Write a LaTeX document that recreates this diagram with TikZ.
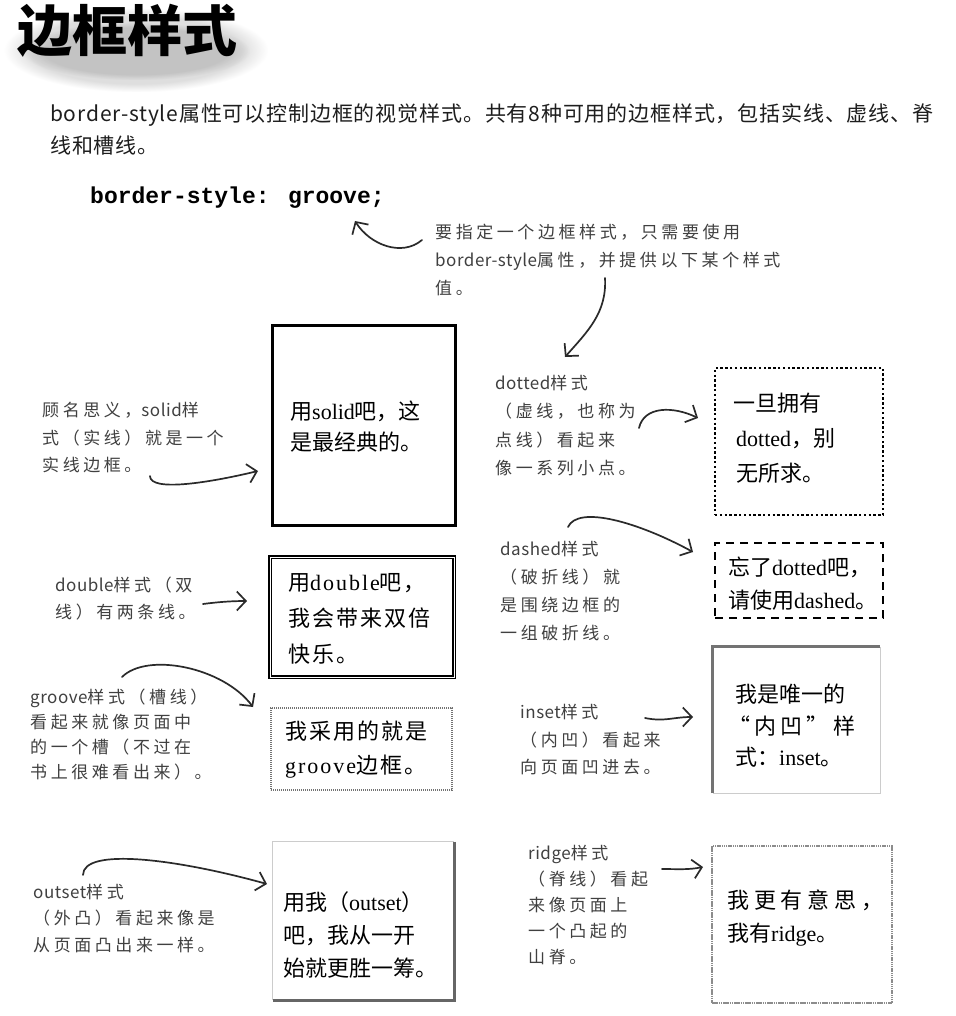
\documentclass[tikz,border=0pt]{standalone}
\usepackage{fontspec}
\setmainfont{Noto Sans CJK SC}
\newfontfamily\handfont[LetterSpace=21]{Noto Sans CJK SC}
\newfontfamily\handlatin[LetterSpace=3]{Noto Sans CJK SC}
\newfontfamily\parafont[LetterSpace=4]{Noto Sans CJK SC}
\newfontfamily\titlefont{Noto Sans CJK SC}
\newfontfamily\cjkwide[LetterSpace=9]{Noto Sans CJK SC}
\newfontfamily\codefont{Liberation Mono}
\newfontfamily\serifen{Liberation Serif}
\newfontfamily\serifwide[LetterSpace=9]{Liberation Serif}
\usetikzlibrary{arrows.meta,fadings}
\newcommand\en[1]{{\serifen #1}}
\newcommand\enw[1]{{\serifwide #1}}
\newcommand\lat[1]{{\handlatin #1}}
\definecolor{ink}{HTML}{1E1E1E}
\definecolor{note}{HTML}{404040}
\definecolor{arrowink}{HTML}{2A2A2A}
\begin{document}
\begin{tikzpicture}[x=1pt,y=-1pt,
  note/.style={font=\handfont\fontsize{17}{#1}\selectfont, text=note, align=left, inner sep=0pt, anchor=west},
  note/.default=27,
  boxtext/.style={font=\fontsize{22}{#1}\selectfont, text=black, align=left, inner sep=0pt, anchor=west},
  boxtext/.default=33,
  widetext/.style={font=\cjkwide\fontsize{22}{#1}\selectfont, text=black, align=left, inner sep=0pt, anchor=west},
  frame/.style={rectangle, inner sep=0pt},
  arr/.style={draw=arrowink, line width=1.7pt, line cap=round, line join=round,
              -{Straight Barb[length=9pt,width=19pt]}}
]
\fill[white] (0,0) rectangle (955,1016);
\useasboundingbox (0,0) rectangle (955,1016);

% title over a soft grey haze
\fill[black, opacity=0.13, path fading=circle with fuzzy edge 20 percent] (4,8) rectangle (268,92);
\fill[black, opacity=0.12, path fading=circle with fuzzy edge 20 percent] (22,22) rectangle (250,80);
\node[font=\titlefont\bfseries\fontsize{55}{55}\selectfont, inner sep=0pt, text=black] (title) at (127,31) {边框样式};

% introduction and the property line
\node[anchor=west, inner sep=0pt, font=\parafont\fontsize{21}{32}\selectfont, text=ink, align=left] (intro) at (50,129)
  {border-style属性可以控制边框的视觉样式。共有8种可用的边框样式，包括实线、虚线、脊\\线和槽线。};
\node[anchor=west, inner sep=0pt, font=\codefont\bfseries\fontsize{23}{23}\selectfont] (code) at (90,198) {border-style: groove;};

% hand-written notes
\node[note=28] (annTop) at (435,260) {要指定一个边框样式，只需要使用\\\lat{border-style}属性，并提供以下某个样式\\值。};
\node[note=27.5] (annSolid) at (42,437.7) {顾名思义，\lat{solid}样\\式（实线）就是一个\\实线边框。};
\node[note] (annDouble) at (55,598.5) {\lat{double}样式（双\\线）有两条线。};
\node[note=25] (annGroove) at (30,734.5) {\lat{groove}样式（槽线）\\看起来就像页面中\\的一个槽（不过在\\书上很难看出来）。};
\node[note=28.5] (annDotted) at (495,425.8) {\lat{dotted}样式\\（虚线，也称为\\点线）看起来\\像一系列小点。};
\node[note=28] (annDashed) at (500,590.5) {\lat{dashed}样式\\（破折线）就\\是围绕边框的\\一组破折线。};
\node[note=27.5] (annInset) at (520,739.7) {\lat{inset}样式\\（内凹）看起来\\向页面凹进去。};
\node[note=26.5] (annOutset) at (33,918.3) {\lat{outset}样式\\（外凸）看起来像是\\从页面凸出来一样。};
\node[note=26] (annRidge) at (528,904.6) {\lat{ridge}样式\\（脊线）看起\\来像页面上\\一个凸起的\\山脊。};

% the eight bordered boxes
\node[frame, draw=black, line width=3pt, minimum width=183pt, minimum height=200pt] (bSolid) at (363.5,425) {};
\node[frame, draw=black, double=white, double distance=0.8pt, line width=1.5pt, minimum width=184pt, minimum height=120pt] (bDouble) at (362,617) {};
\node[frame, draw=black!55, line width=1.4pt, dash pattern=on 1.2pt off 0.8pt, minimum width=181pt, minimum height=82pt] (bGroove) at (361.5,749) {};
\node[frame, draw=black, line width=2.6pt, dash pattern=on 2.4pt off 2.4pt, minimum width=168pt, minimum height=147pt] (bDotted) at (799,441.5) {};
\node[frame, draw=black, line width=2.6pt, dash pattern=on 8pt off 6pt, minimum width=168pt, minimum height=75pt] (bDashed) at (799,580.5) {};
\node[frame, minimum width=167pt, minimum height=146pt] (bInset) at (796.5,720) {};
\draw[black!55, line width=3pt] (bInset.south west) -- (bInset.north west) -- (bInset.north east);
\draw[black!20, line width=1.2pt] (bInset.north east) -- (bInset.south east) -- (bInset.south west);
\node[frame, minimum width=181pt, minimum height=158pt] (bOutset) at (363.5,921) {};
\draw[black!20, line width=1.2pt] (bOutset.south west) -- (bOutset.north west) -- (bOutset.north east);
\draw[black!60, line width=3pt] (bOutset.north east) -- (bOutset.south east) -- (bOutset.south west);
\node[frame, draw=black!45, line width=1.5pt, dash pattern=on 1.5pt off 0.7pt, minimum width=180pt, minimum height=157pt] (bRidge) at (802,924.5) {};

% box texts
\node[boxtext=31] (tSolid) at (290,426.5) {用\en{solid}吧，这\\是最经典的。};
\node[widetext=36] (tDouble) at (288,619) {用\enw{double}吧，\\我会带来双倍\\快乐。};
\node[widetext=34] (tGroove) at (285,750) {我采用的就是\\\enw{groove}边框。};
\node[boxtext=35] (tDotted) at (733,438) {一旦拥有\\\hspace*{3pt}\en{dotted}，别\\\hspace*{3pt}无所求。};
\node[boxtext=33] (tDashed) at (728,583.5) {忘了\en{dotted}吧，\\请使用\en{dashed}。};
\node[boxtext=31.5] (tInset) at (728,726) {\hspace*{7pt}我是唯一的\\\hbox to 127pt{“\hfil 内\hfil 凹\hfil ”\hfil 样}\\\hspace*{7pt}式：\en{inset}。};
\node[boxtext=33] (tOutset) at (283,935) {用我（\en{outset}）\\吧，我从一开\\始就更胜一筹。};
\node[boxtext=33] (tRidge) at (727,918.5) {\hbox to 156pt{我\hfil 更\hfil 有\hfil 意\hfil 思\hfil ，}\\我有\en{ridge}。};

% arrow ends
\coordinate (topFrom) at (422,240);   \coordinate (codeTip) at (355,221);
\coordinate (topFrom2) at (605,278);  \coordinate (dottedNoteTip) at (565,357);
\coordinate (solidFrom) at (150,476); \coordinate (solidTip) at (258,471);
\coordinate (doubleFrom) at (203,604);\coordinate (doubleTip) at (247,601);
\coordinate (grooveFrom) at (122,677);\coordinate (grooveTip) at (253,707);
\coordinate (dottedFrom) at (639,428);\coordinate (dottedTip) at (698,418);
\coordinate (dashedFrom) at (568,527);\coordinate (dashedTip) at (693,552);
\coordinate (insetFrom) at (645,718); \coordinate (insetTip) at (693,717);
\coordinate (outsetFrom) at (83,875); \coordinate (outsetTip) at (267,884);
\coordinate (ridgeFrom) at (662,869); \coordinate (ridgeTip) at (703,867);

% hand-drawn arrows
\draw[arr] (topFrom) .. controls +(-20,17) and +(15,24) .. (codeTip);
\draw[arr] (topFrom2) .. controls +(2,35) and +(22,-25) .. (dottedNoteTip);
\draw[arr] (solidFrom) .. controls +(0,16) and +(-50,12) .. (solidTip);
\draw[arr] (doubleFrom) .. controls +(15,-2) and +(-15,0) .. (doubleTip);
\draw[arr] (grooveFrom) .. controls +(25,-25) and +(-30,-40) .. (grooveTip);
\draw[arr] (dottedFrom) .. controls +(5,-22) and +(-25,-12) .. (dottedTip);
\draw[arr] (dashedFrom) .. controls +(10,-22) and +(-55,-30) .. (dashedTip);
\draw[arr] (insetFrom) .. controls +(20,4) and +(-20,0) .. (insetTip);
\draw[arr] (outsetFrom) .. controls +(0,-28) and +(-90,-25) .. (outsetTip);
\draw[arr] (ridgeFrom) .. controls +(15,0) and +(-15,3) .. (ridgeTip);
\end{tikzpicture}
\end{document}
